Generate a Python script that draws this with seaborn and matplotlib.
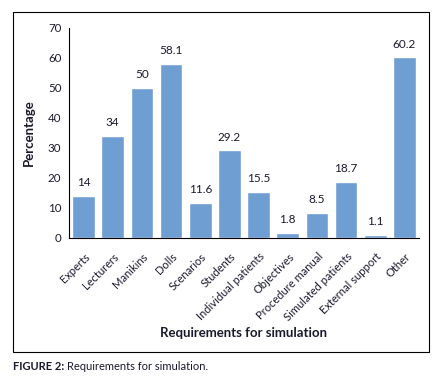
import matplotlib
matplotlib.use("Agg")
import matplotlib.pyplot as plt
import seaborn as sns
import pandas as pd
from matplotlib.patches import Rectangle

categories = ["Experts", "Lecturers", "Manikins", "Dolls", "Scenarios", "Students",
              "Individual patients", "Objectives", "Procedure manual",
              "Simulated patients", "External support", "Other"]
values = [14, 34, 50, 58.1, 11.6, 29.2, 15.5, 1.8, 8.5, 18.7, 1.1, 60.2]
value_labels = ["14", "34", "50", "58.1", "11.6", "29.2", "15.5", "1.8", "8.5", "18.7", "1.1", "60.2"]

df = pd.DataFrame({"req": categories, "pct": values})

sns.set_style("white")
plt.rcParams["font.family"] = ["Lato", "DejaVu Sans"]
txt = "#1a1a2e"

fig = plt.figure(figsize=(4.46, 3.83), dpi=100)
ax = fig.add_axes([69 / 446, 1 - 238 / 383, 350 / 446, 210 / 383])

sns.barplot(data=df, x="req", y="pct", color="#6f9fd2", width=0.78, saturation=1, ax=ax)

ax.set_ylim(0, 70)
ax.set_xlim(-0.5, len(categories) - 0.5)
ax.set_yticks(range(0, 71, 10))
ax.tick_params(axis="y", labelsize=8.3, length=3.5, width=0.8, colors="black", labelcolor=txt, pad=2)
ax.set_xticks([i - 0.5 for i in range(len(categories) + 1)], minor=False)
ax.set_xticklabels([])
ax.tick_params(axis="x", length=3, width=0.8, colors="black")
for i, c in enumerate(categories):
    ax.text(i + 0.02, -4.3, c, rotation=45, ha="right", va="top", fontsize=8,
            color=txt, rotation_mode="anchor")

for i, (v, lab) in enumerate(zip(values, value_labels)):
    ax.text(i, v + 2.6, lab, ha="center", va="bottom", fontsize=8.5, color=txt)

for s in ["top", "right"]:
    ax.spines[s].set_visible(False)
for s in ["left", "bottom"]:
    ax.spines[s].set_color("black")
    ax.spines[s].set_linewidth(0.8)

ax.set_xlabel("")
ax.set_ylabel("Percentage", fontsize=9.5, fontweight="bold", color=txt, labelpad=9)
fig.text(244 / 446, 1 - 333 / 383, "Requirements for simulation", ha="center", va="center",
         fontsize=9.5, fontweight="bold", color=txt)

fig.patches.append(Rectangle((13 / 446, 1 - 352 / 383), 416 / 446, 340 / 383,
                             transform=fig.transFigure, fill=False, edgecolor="black", linewidth=0.8))

cap = fig.text(13 / 446, 1 - 366 / 383, "FIGURE 2:", ha="left", va="center", fontsize=8,
               fontweight="bold", color=txt)
fig.canvas.draw()
bb = cap.get_window_extent().transformed(fig.transFigure.inverted())
fig.text(bb.x1 + 3 / 446, 1 - 366 / 383, "Requirements for simulation.", ha="left", va="center",
         fontsize=8, color=txt)

fig.savefig("out.png", dpi=100)
